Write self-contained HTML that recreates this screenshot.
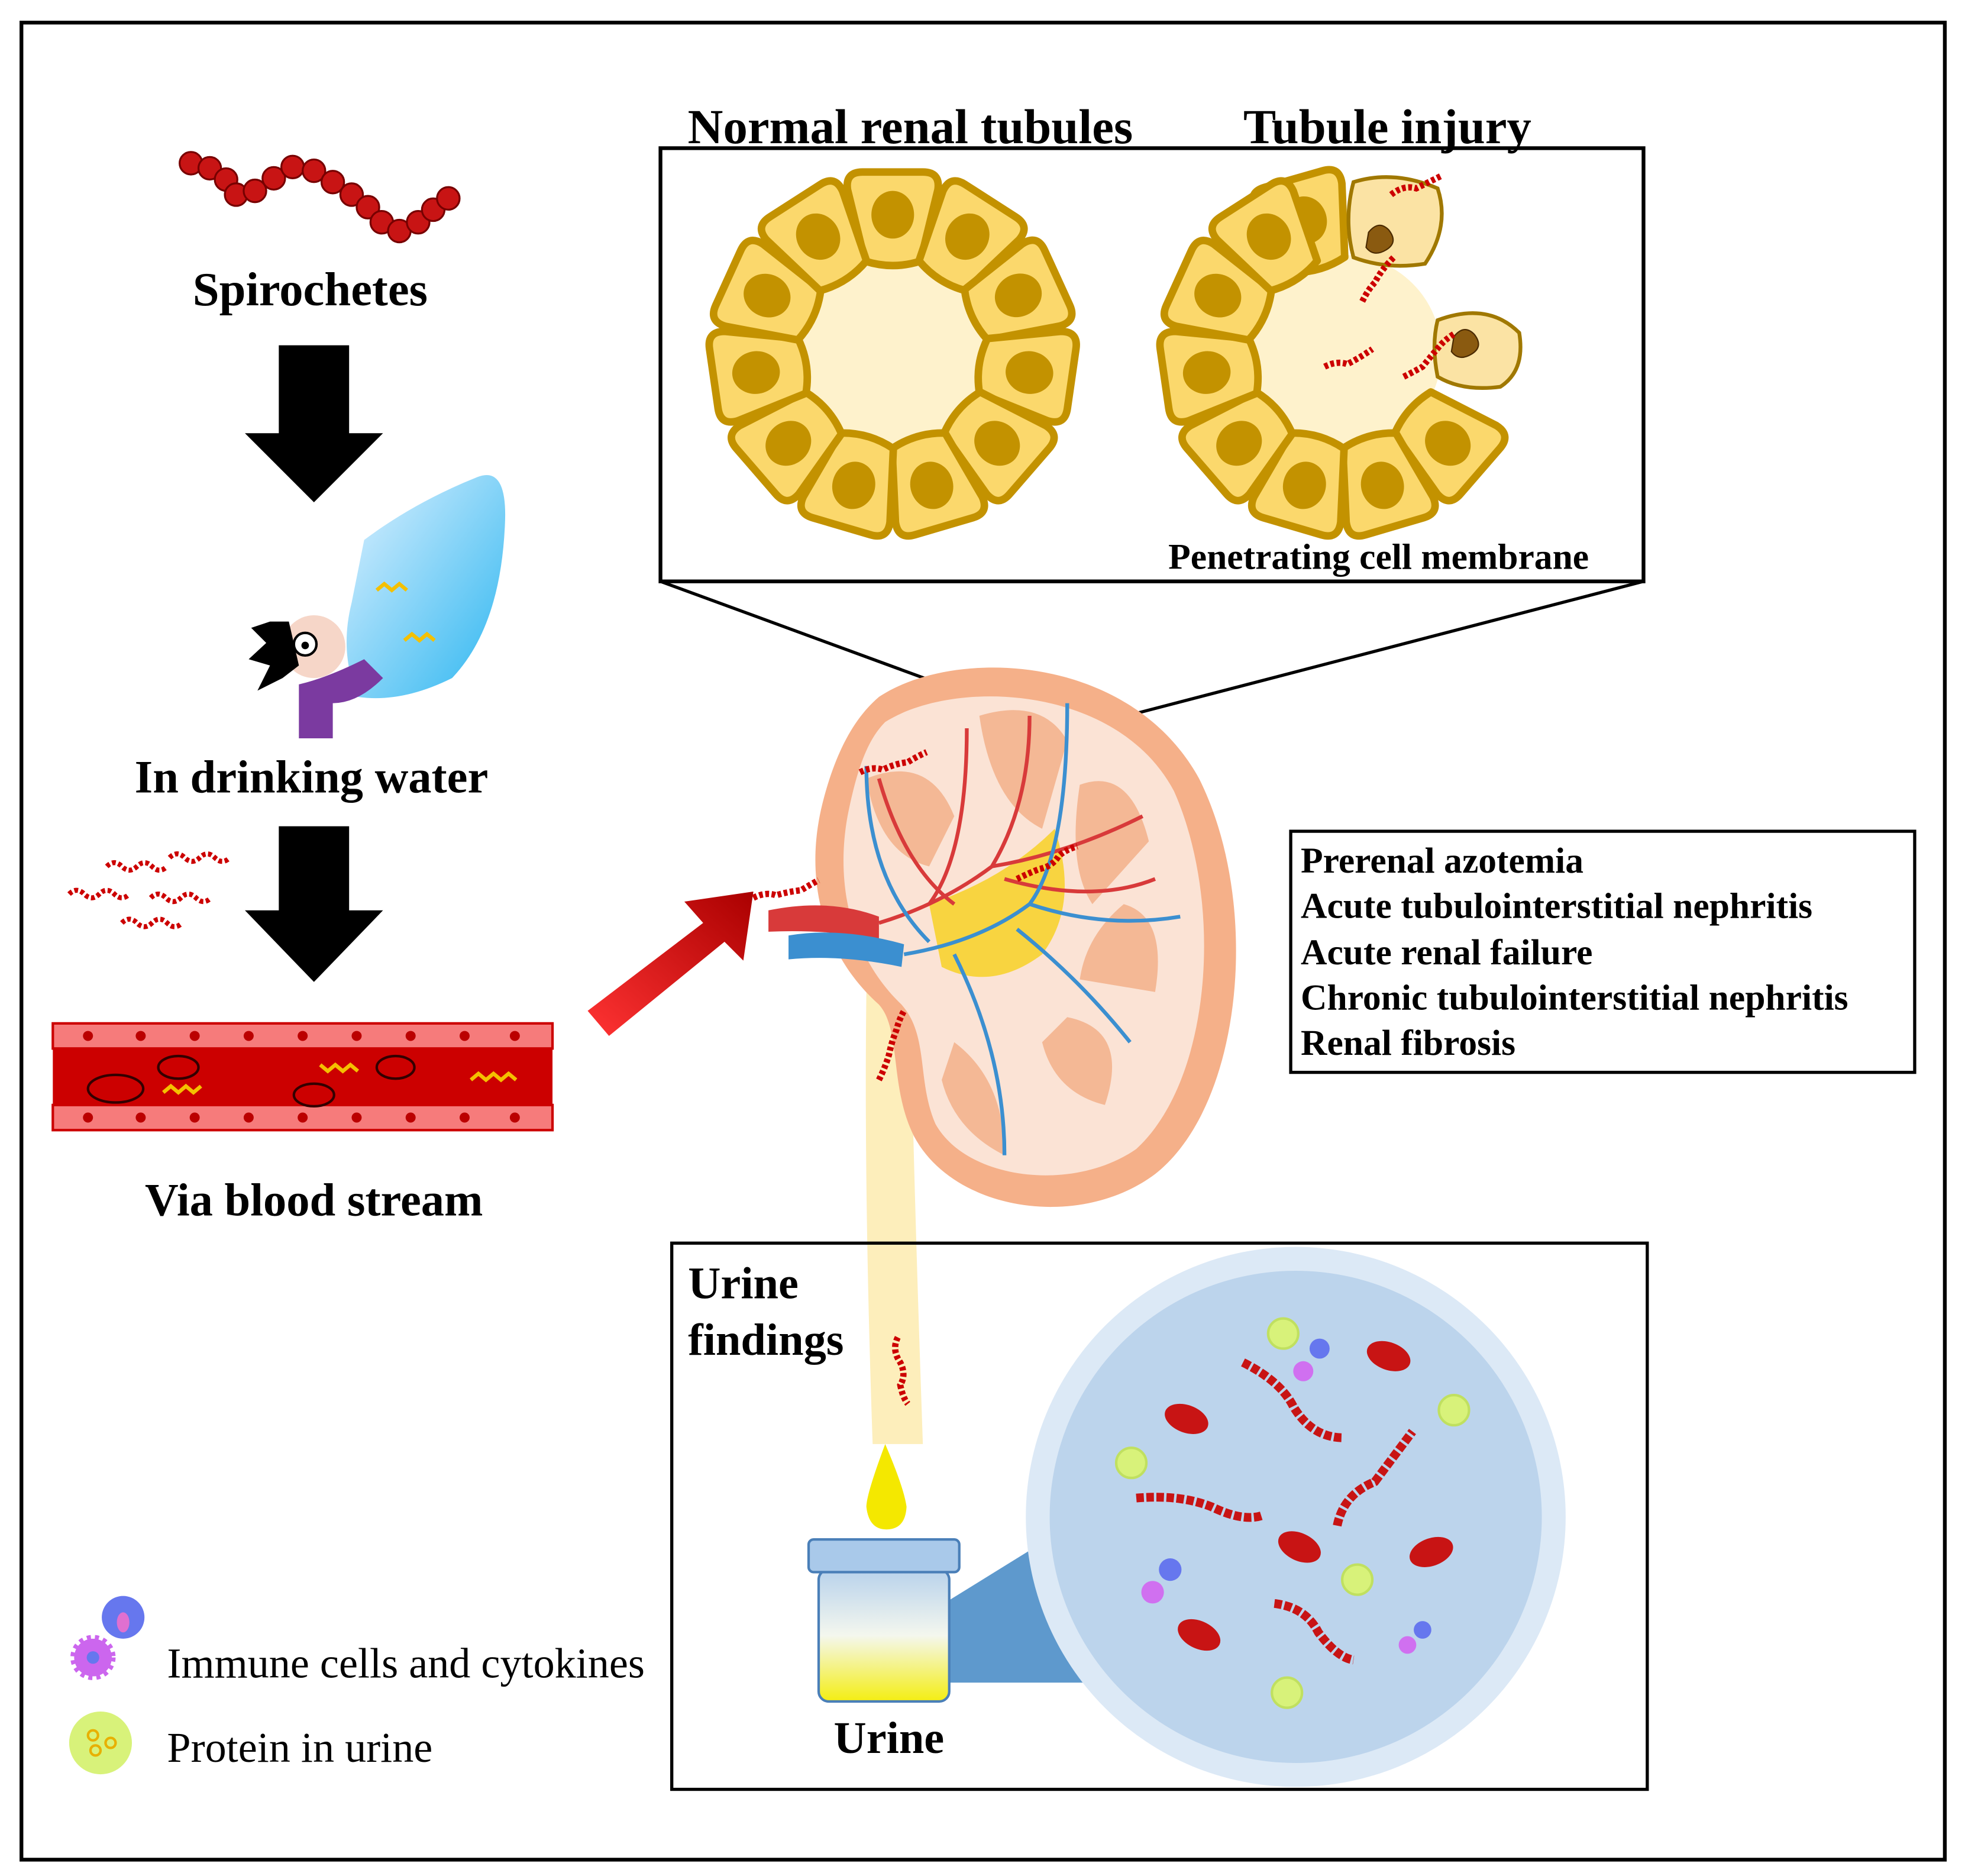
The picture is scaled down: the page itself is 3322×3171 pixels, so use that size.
<!DOCTYPE html>
<html><head><meta charset="utf-8"><style>
html,body{margin:0;padding:0;background:#fff}
svg{display:block}
text{font-family:"Liberation Serif",serif}
</style></head><body>
<svg width="3322" height="3171" viewBox="0 0 1565 1494" xmlns="http://www.w3.org/2000/svg">
<defs>
<g id="cell">
<path d="M-22,33 L-36,-24 Q-38,-38 -24,-38 L24,-38 Q38,-38 36,-24 L22,33 Q0,40 -22,33 Z" fill="#fbd86c" stroke="#c39200" stroke-width="6" stroke-linejoin="round"/>
<ellipse cx="0" cy="-4" rx="17" ry="19" fill="#c39200"/>
</g>
<g id="sp"><path d="M0,0 q6,-6 12,0 t12,0 t12,0 t12,0" fill="none" stroke="#c00" stroke-width="4" stroke-dasharray="3 2"/></g>
<linearGradient id="jar" x1="0" y1="0" x2="0" y2="1"><stop offset="0" stop-color="#b8d2ec"/><stop offset="0.5" stop-color="#f4f7ee"/><stop offset="1" stop-color="#f4ee12"/></linearGradient>
<linearGradient id="ra" x1="0" y1="1" x2="1" y2="0"><stop offset="0" stop-color="#f33"/><stop offset="1" stop-color="#a00"/></linearGradient>
<linearGradient id="wat" x1="0" y1="0" x2="1" y2="1"><stop offset="0" stop-color="#dff1ff"/><stop offset="1" stop-color="#2cb6f0"/></linearGradient>
</defs>
<rect x="17" y="18" width="1532" height="1463" fill="#fff" stroke="#000" stroke-width="3"/>

<g fill="#c81414" stroke="#700" stroke-width="1.5">
<circle cx="152" cy="130" r="9"/><circle cx="167" cy="134" r="9"/><circle cx="180" cy="143" r="9"/><circle cx="188" cy="155" r="9"/><circle cx="203" cy="152" r="9"/><circle cx="218" cy="142" r="9"/><circle cx="233" cy="133" r="9"/><circle cx="250" cy="136" r="9"/><circle cx="265" cy="145" r="9"/><circle cx="280" cy="155" r="9"/><circle cx="293" cy="165" r="9"/><circle cx="304" cy="177" r="9"/><circle cx="318" cy="184" r="9"/><circle cx="333" cy="177" r="9"/><circle cx="345" cy="167" r="9"/><circle cx="357" cy="158" r="9"/>
</g>
<text x="247" y="243" font-size="38" font-weight="bold" text-anchor="middle">Spirochetes</text>
<polygon points="222,275 278,275 278,345 305,345 250,400 195,345 222,345" fill="#000"/>

<path d="M290,430 Q330,400 380,380 Q405,370 402,420 Q398,500 360,540 Q320,560 285,555 Q270,520 280,480 Z" fill="url(#wat)"/>
<circle cx="250" cy="515" r="25" fill="#f6d6c8"/>
<path d="M215,495 L200,500 L212,512 L198,525 L215,530 L205,550 L225,540 L238,530 L230,495 Z" fill="#000"/>
<circle cx="243" cy="513" r="9" fill="#fff" stroke="#000" stroke-width="2"/><circle cx="243" cy="514" r="3"/>
<path d="M238,545 Q260,540 290,525 L305,540 Q285,560 265,560 L265,588 L238,588 Z" fill="#7b3aa0"/>
<path d="M300,470 l6,-5 l6,5 l6,-5 l6,5 M322,510 l6,-5 l6,5 l6,-5 l6,5" stroke="#f4c000" stroke-width="3" fill="none"/>
<text x="248" y="631" font-size="37" font-weight="bold" text-anchor="middle">In drinking water</text>
<polygon points="222,658 278,658 278,725 305,725 250,782 195,725 222,725" fill="#000"/>

<g>
<use href="#sp" x="85" y="690"/><use href="#sp" x="135" y="683"/><use href="#sp" x="55" y="712"/><use href="#sp" x="120" y="715"/><use href="#sp" x="97" y="735"/>
</g>

<rect x="42" y="815" width="398" height="85" rx="10" fill="#c00"/>
<g fill="#f67b7b" stroke="#c00" stroke-width="2">
<rect x="42" y="815" width="398" height="20"/><rect x="42" y="880" width="398" height="20"/>
</g>
<g fill="#b00">
<circle cx="70" cy="825" r="4"/><circle cx="112" cy="825" r="4"/><circle cx="155" cy="825" r="4"/><circle cx="198" cy="825" r="4"/><circle cx="241" cy="825" r="4"/><circle cx="284" cy="825" r="4"/><circle cx="327" cy="825" r="4"/><circle cx="370" cy="825" r="4"/><circle cx="410" cy="825" r="4"/>
<circle cx="70" cy="890" r="4"/><circle cx="112" cy="890" r="4"/><circle cx="155" cy="890" r="4"/><circle cx="198" cy="890" r="4"/><circle cx="241" cy="890" r="4"/><circle cx="284" cy="890" r="4"/><circle cx="327" cy="890" r="4"/><circle cx="370" cy="890" r="4"/><circle cx="410" cy="890" r="4"/>
</g>
<g fill="none" stroke="#300" stroke-width="2"><ellipse cx="92" cy="867" rx="22" ry="11"/><ellipse cx="142" cy="850" rx="16" ry="9"/><ellipse cx="250" cy="872" rx="16" ry="9"/><ellipse cx="315" cy="850" rx="15" ry="9"/></g>
<path d="M130,870 l6,-5 l6,5 l6,-5 l6,5 l6,-5 M255,848 l6,5 l6,-5 l6,5 l6,-5 l6,5 M375,860 l6,-5 l6,5 l6,-5 l6,5 l6,-5 l6,5" stroke="#f4c000" stroke-width="3" fill="none"/>
<text x="250" y="968" font-size="37" font-weight="bold" text-anchor="middle">Via blood stream</text>

<polygon points="468,805 560,735 545,718 600,710 592,765 577,750 485,825" fill="url(#ra)"/>

<text x="725" y="114" font-size="39" font-weight="bold" text-anchor="middle">Normal renal tubules</text>
<text x="1105" y="114" font-size="39" font-weight="bold" text-anchor="middle">Tubule injury</text>
<rect x="526" y="118" width="783" height="345" fill="none" stroke="#000" stroke-width="3"/>
<g transform="translate(711,281)">
<circle r="78" fill="#fef2cc"/>
<use href="#cell" transform="rotate(0) translate(0,-106)"/><use href="#cell" transform="rotate(32.7) translate(0,-106)"/><use href="#cell" transform="rotate(65.4) translate(0,-106)"/><use href="#cell" transform="rotate(98.2) translate(0,-106)"/><use href="#cell" transform="rotate(130.9) translate(0,-106)"/><use href="#cell" transform="rotate(163.6) translate(0,-106)"/><use href="#cell" transform="rotate(196.4) translate(0,-106)"/><use href="#cell" transform="rotate(229.1) translate(0,-106)"/><use href="#cell" transform="rotate(261.8) translate(0,-106)"/><use href="#cell" transform="rotate(294.5) translate(0,-106)"/><use href="#cell" transform="rotate(327.3) translate(0,-106)"/>
</g>
<g transform="translate(1070,281)">
<circle r="78" fill="#fef2cc"/>
<use href="#cell" transform="rotate(-16) translate(0,-106)"/><use href="#cell" transform="rotate(130.9) translate(0,-106)"/><use href="#cell" transform="rotate(163.6) translate(0,-106)"/><use href="#cell" transform="rotate(196.4) translate(0,-106)"/><use href="#cell" transform="rotate(229.1) translate(0,-106)"/><use href="#cell" transform="rotate(261.8) translate(0,-106)"/><use href="#cell" transform="rotate(294.5) translate(0,-106)"/><use href="#cell" transform="rotate(327.3) translate(0,-106)"/>
</g>
<path d="M1078,145 Q1110,135 1145,150 Q1155,180 1135,210 Q1105,215 1078,205 Q1070,175 1078,145 Z" fill="#fbe3a4" stroke="#a07800" stroke-width="3"/>
<path d="M1145,255 Q1185,240 1210,265 Q1215,295 1195,308 Q1165,312 1145,300 Q1140,275 1145,255 Z" fill="#fbe3a4" stroke="#a07800" stroke-width="3"/>
<path d="M1090,185 q8,-10 16,-2 q8,10 -2,16 q-10,6 -16,-2 z M1158,268 q8,-10 16,-2 q8,10 -2,16 q-10,6 -16,-2 z" fill="#8a5a10" stroke="#4a2a00"/>
<path d="M1085,240 q5,-10 10,-15 q5,-10 15,-20 M1108,155 q10,-8 20,-5 q10,-5 20,-10 M1055,292 q10,-5 18,-2 q10,-5 20,-12 M1118,300 q10,-5 15,-8 q8,-10 15,-18 q5,-5 10,-8" stroke="#c00" stroke-width="5" stroke-dasharray="3 2" fill="none"/>
<text x="1098" y="453" font-size="29" font-weight="bold" text-anchor="middle">Penetrating cell membrane</text>
<line x1="526" y1="463" x2="845" y2="580" stroke="#000" stroke-width="2.5"/>
<line x1="1309" y1="463" x2="840" y2="585" stroke="#000" stroke-width="2.5"/>

<path d="M690,790 Q688,950 695,1150 L735,1150 Q728,950 725,800 Z" fill="#fdeebb"/>
<path d="M705,1150 Q690,1190 690,1200 Q692,1218 706,1218 Q721,1218 722,1200 Q720,1185 705,1150 Z" fill="#f4e800"/>

<path d="M700,555 C760,515 900,520 955,620 C1005,720 990,880 920,935 C860,980 760,965 728,905 C708,865 718,820 700,800 C655,760 640,700 655,640 C665,600 680,572 700,555 Z" fill="#f5b089"/>
<path d="M705,575 C760,540 890,545 935,630 C975,720 965,860 905,915 C855,950 770,940 745,895 C730,860 740,825 718,800 C678,762 665,705 675,650 C682,615 690,590 705,575 Z" fill="#fbe3d5"/>
<g fill="#f4b895">
<path d="M780,570 Q830,555 850,590 L830,660 Q790,640 780,570 Z"/>
<path d="M860,625 Q900,610 915,670 L870,720 Q850,690 860,625 Z"/>
<path d="M895,720 Q930,730 920,790 L860,780 Q865,745 895,720 Z"/>
<path d="M850,810 Q900,820 880,880 Q840,870 830,830 Z"/>
<path d="M760,830 Q800,860 800,920 Q760,900 750,860 Z"/>
<path d="M690,620 Q740,600 760,650 L740,690 Q700,680 690,620 Z"/>
</g>
<path d="M740,720 Q800,700 840,660 Q860,720 830,760 Q790,790 750,770 Z" fill="#f8d440"/>
<path d="M612,725 Q660,715 700,730 L700,748 Q660,740 612,742 Z" fill="#d83a3a"/>
<path d="M628,745 Q670,738 720,752 L718,770 Q670,760 628,764 Z" fill="#3b8fd0"/>
<g fill="none" stroke-width="3">
<path d="M700,735 Q750,720 790,690 Q820,640 820,570 M790,690 Q850,680 910,650 M760,720 Q720,690 700,620 M800,700 Q870,720 920,700 M740,720 Q770,680 770,580" stroke="#d83a3a"/>
<path d="M720,760 Q780,750 820,720 Q850,680 850,560 M820,720 Q880,740 940,730 M760,760 Q800,840 800,920 M740,750 Q690,700 690,610 M810,740 Q860,780 900,830" stroke="#3b8fd0"/>
</g>
<path d="M685,615 q10,-5 18,-2 q10,-5 20,-6 q8,-5 15,-8 M810,700 q10,-5 18,-8 q10,-2 15,-10 q5,-5 15,-8 M600,715 q10,-5 18,-2 q10,-3 20,-4 q8,-5 14,-8 M700,860 q5,-10 8,-20 q2,-10 6,-20 q2,-8 6,-15 M715,1065 q-5,10 2,20 q5,10 0,18 q2,10 6,15" stroke="#c00" stroke-width="5" stroke-dasharray="3 2" fill="none"/>

<rect x="1028" y="662" width="497" height="192" fill="#fff" stroke="#000" stroke-width="2.5"/>
<g font-size="29" font-weight="bold">
<text x="1036" y="695">Prerenal azotemia</text>
<text x="1036" y="731">Acute tubulointerstitial nephritis</text>
<text x="1036" y="768">Acute renal failure</text>
<text x="1036" y="804">Chronic tubulointerstitial nephritis</text>
<text x="1036" y="840">Renal fibrosis</text>
</g>

<rect x="535" y="990" width="777" height="435" fill="none" stroke="#000" stroke-width="2.5"/>
<text x="548" y="1034" font-size="36" font-weight="bold">Urine</text>
<text x="548" y="1079" font-size="36" font-weight="bold">findings</text>
<path d="M755,1275 L860,1210 L880,1340 L755,1340 Z" fill="#4c8ec8" opacity="0.9"/>
<circle cx="1032" cy="1208" r="215" fill="#dce9f6"/>
<circle cx="1032" cy="1208" r="196" fill="#bcd4ec"/>
<rect x="652" y="1250" width="104" height="105" rx="8" fill="url(#jar)" stroke="#4a7fb8" stroke-width="2"/>
<rect x="644" y="1226" width="120" height="26" rx="4" fill="#a9c9ea" stroke="#4a7fb8" stroke-width="2"/>
<text x="708" y="1396" font-size="36" font-weight="bold" text-anchor="middle">Urine</text>
<g fill="#c81414">
<ellipse cx="945" cy="1130" rx="18" ry="11" transform="rotate(20 945 1130)"/><ellipse cx="1106" cy="1080" rx="18" ry="11" transform="rotate(20 1106 1080)"/><ellipse cx="1035" cy="1232" rx="18" ry="11" transform="rotate(25 1035 1232)"/><ellipse cx="1140" cy="1236" rx="18" ry="11" transform="rotate(-20 1140 1236)"/><ellipse cx="955" cy="1302" rx="18" ry="11" transform="rotate(25 955 1302)"/>
</g>
<g fill="none" stroke="#c81414" stroke-width="7" stroke-dasharray="6 2">
<path d="M990,1085 Q1020,1100 1030,1120 Q1045,1145 1070,1145"/>
<path d="M905,1193 Q940,1190 965,1200 Q990,1212 1005,1207"/>
<path d="M1065,1215 Q1070,1190 1095,1180 Q1110,1160 1125,1140"/>
<path d="M1015,1277 Q1040,1280 1050,1300 Q1065,1320 1078,1322"/>
</g>
<g fill="#d8f27a" stroke="#c0e060" stroke-width="2"><circle cx="1022" cy="1062" r="12"/><circle cx="1158" cy="1123" r="12"/><circle cx="901" cy="1165" r="12"/><circle cx="1081" cy="1258" r="12"/><circle cx="1025" cy="1348" r="12"/></g>
<g fill="#6677ee"><circle cx="1051" cy="1074" r="8"/><circle cx="932" cy="1250" r="9"/><circle cx="1133" cy="1298" r="7"/></g>
<g fill="#d070f0"><circle cx="1038" cy="1092" r="8"/><circle cx="918" cy="1268" r="9"/><circle cx="1121" cy="1310" r="7"/></g>

<circle cx="98" cy="1288" r="17" fill="#6677ee"/><ellipse cx="98" cy="1292" rx="5" ry="8" fill="#e070d0"/>
<circle cx="74" cy="1320" r="15" fill="#cc66ee" stroke="#cc66ee" stroke-width="6" stroke-dasharray="3 3"/><circle cx="74" cy="1320" r="5" fill="#6677ee"/>
<text x="133" y="1336" font-size="34">Immune cells and cytokines</text>
<circle cx="80" cy="1388" r="25" fill="#d8f27a"/>
<g fill="none" stroke="#e8b000" stroke-width="2"><circle cx="74" cy="1382" r="4"/><circle cx="88" cy="1388" r="4"/><circle cx="76" cy="1394" r="4"/></g>
<text x="133" y="1403" font-size="34">Protein in urine</text>
</svg>
</body></html>
